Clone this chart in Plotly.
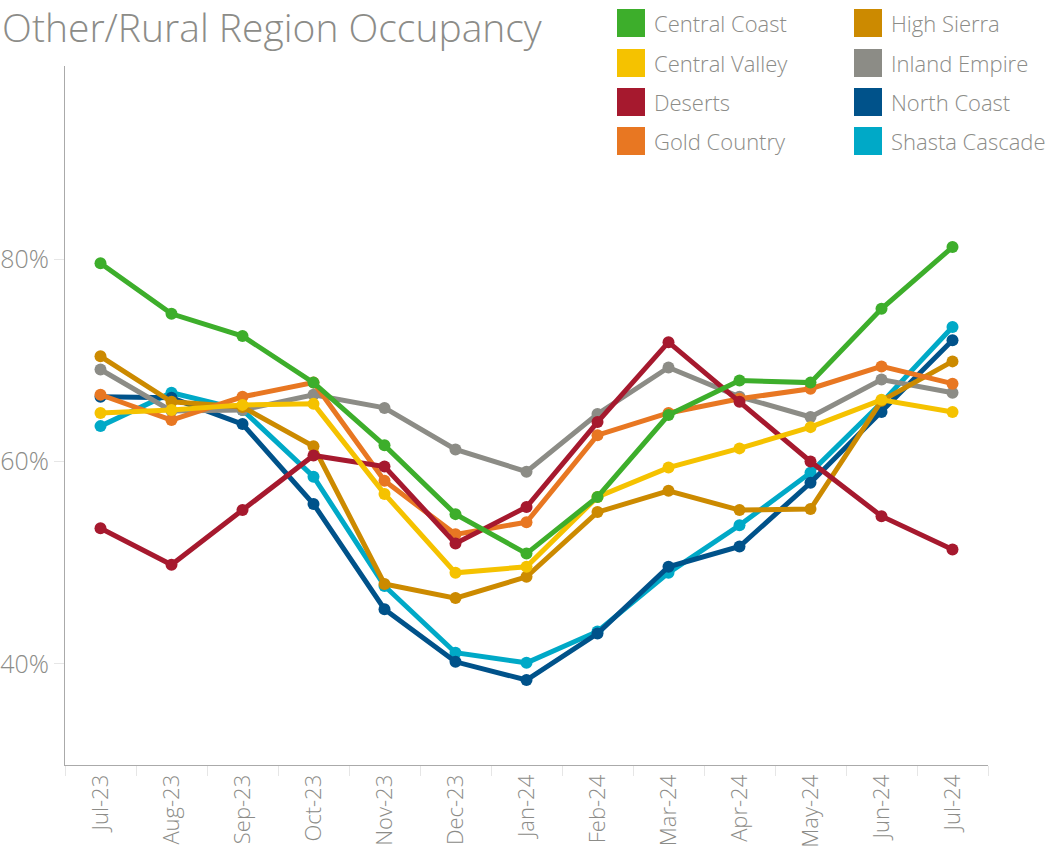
import plotly.graph_objects as go

# months on the x axis
months = ['Jul-23', 'Aug-23', 'Sep-23', 'Oct-23', 'Nov-23', 'Dec-23', 'Jan-24',
          'Feb-24', 'Mar-24', 'Apr-24', 'May-24', 'Jun-24', 'Jul-24']

# occupancy (%) per region
central_coast = [79.6, 74.6, 72.4, 67.8, 61.6, 54.8, 50.9, 56.5, 64.6, 68.0, 67.8, 75.1, 81.2]
central_valley = [64.8, 65.1, 65.6, 65.7, 56.8, 49.0, 49.6, 56.5, 59.4, 61.3, 63.4, 66.1, 64.9]
deserts = [53.4, 49.8, 55.2, 60.6, 59.5, 51.9, 55.5, 63.9, 71.8, 65.9, 60.0, 54.6, 51.3]
gold_country = [66.6, 64.1, 66.4, 67.8, 58.1, 52.8, 54.0, 62.6, 64.8, 66.2, 67.2, 69.4, 67.7]
high_sierra = [70.4, 65.9, 65.4, 61.5, 47.9, 46.5, 48.6, 55.0, 57.1, 55.2, 55.3, 66.0, 69.9]
inland_empire = [69.1, 65.0, 65.1, 66.6, 65.3, 61.2, 59.0, 64.7, 69.3, 66.4, 64.4, 68.1, 66.8]
north_coast = [66.4, 66.3, 63.7, 55.8, 45.4, 40.2, 38.4, 43.0, 49.6, 51.6, 57.9, 64.9, 72.0]
shasta_cascade = [63.5, 66.8, 65.1, 58.5, 47.7, 41.1, 40.1, 43.2, 49.0, 53.7, 58.9, 65.8, 73.3]

regions = ['Central Coast', 'Central Valley', 'Deserts', 'Gold Country',
           'High Sierra', 'Inland Empire', 'North Coast', 'Shasta Cascade']
values = [central_coast, central_valley, deserts, gold_country,
          high_sierra, inland_empire, north_coast, shasta_cascade]
colors = ['#3DAE2B', '#F5C200', '#A6192E', '#E87722',
          '#CC8A00', '#8C8C86', '#00528A', '#00A9C7']

grey = '#8C8C88'
font = 'Open Sans'

fig = go.Figure()

# first region ends up on top, so add them back to front
for name, vals, col in reversed(list(zip(regions, values, colors))):
    fig.add_trace(go.Scatter(
        x=months, y=vals, name=name, mode='lines+markers',
        line=dict(color=col, width=5),
        marker=dict(color=col, size=12),
        showlegend=False,
    ))

W, H = 1054, 854
ml, mt = 65, 66
mr, mb = W - 988, H - 765
pw, ph = W - ml - mr, H - mt - mb

# pixel -> paper coords
def px_x(p):
    return (p - ml) / pw

def px_y(p):
    return (H - mb - p) / ph

# hand-made legend: two columns of square swatches
col_x = [617, 854]
row_y = [23, 63, 102, 141]
for n, (name, col) in enumerate(zip(regions, colors)):
    cx = col_x[n // 4]
    cy = row_y[n % 4]
    fig.add_shape(type='rect', xref='paper', yref='paper',
                  x0=px_x(cx), x1=px_x(cx + 28),
                  y0=px_y(cy + 14), y1=px_y(cy - 14),
                  fillcolor=col, line=dict(width=0))
    fig.add_annotation(xref='paper', yref='paper',
                       x=px_x(cx + 35), y=px_y(cy),
                       xanchor='left', yanchor='middle', showarrow=False,
                       text=name, font=dict(family=font, size=22, color=grey, weight=300))

fig.update_layout(
    width=W, height=H,
    margin=dict(l=ml, r=mr, t=mt, b=mb),
    paper_bgcolor='white', plot_bgcolor='white',
    title=dict(text='Other/Rural Region Occupancy', xref='container', yref='container',
               x=0.002, y=1 - 28 / H, xanchor='left', yanchor='middle',
               font=dict(family=font, size=39, color=grey, weight=300)),
    xaxis=dict(type='category', range=[-0.5, 12.5], tickson='boundaries',
               showgrid=False, zeroline=False, automargin=False,
               showline=True, linecolor='#AAAAAA', linewidth=1,
               ticks='outside', ticklen=10, tickcolor='#E6E6E6',
               tickangle=-90, tickfont=dict(family=font, size=22, color=grey, weight=300)),
    yaxis=dict(range=[30, 99.1], tickvals=[40, 60, 80], ticktext=['40%', '60%', '80%'],
               showgrid=False, zeroline=False, automargin=False,
               showline=True, linecolor='#AAAAAA', linewidth=1,
               ticks='outside', ticklen=10, tickcolor='#E6E6E6',
               tickfont=dict(family=font, size=25, color=grey, weight=300)),
)

# drop the default 8px body margin so the figure fills the window
fig.write_html('out.html', config={'displayModeBar': False},
               post_script="document.body.style.margin='0';")
